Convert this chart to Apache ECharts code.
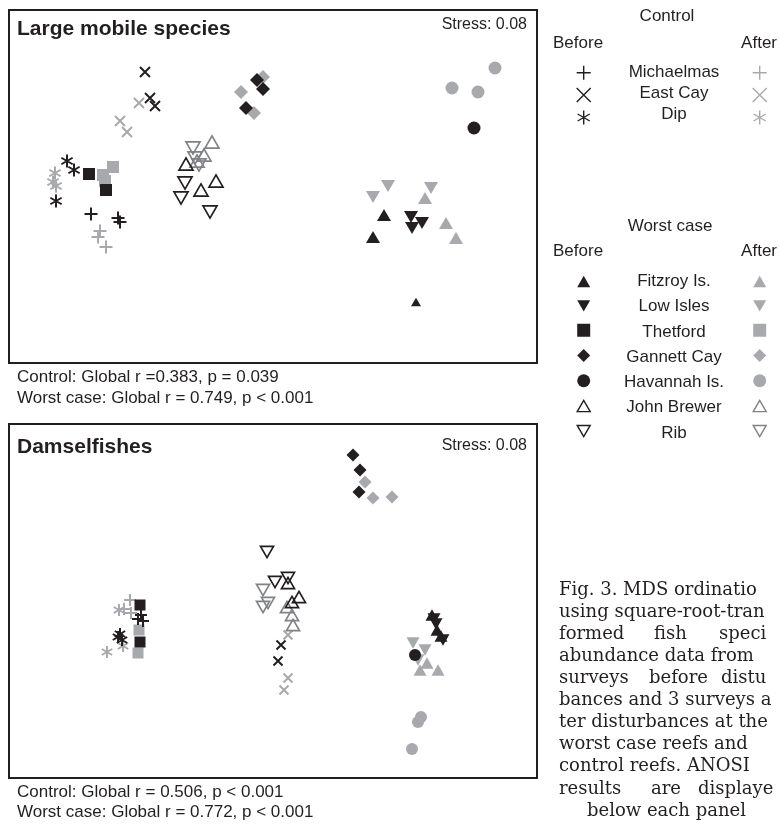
<!DOCTYPE html>
<html><head><meta charset="utf-8">
<script src="https://cdn.jsdelivr.net/npm/echarts@6/dist/echarts.min.js"></script>
<style>html,body{margin:0;padding:0;background:#fff}#c{width:779px;height:828px}</style>
</head><body><div id="c"></div>
<script>
// ---------- Panel A: Large mobile species (MDS coordinates) ----------
const A_michaelmas_before = [[-1.82,-0.275],[-1.55,-0.315],[-1.53,-0.355]];
const A_michaelmas_after  = [[-1.73,-0.445],[-1.75,-0.505],[-1.67,-0.605]];
const A_eastcay_before    = [[-1.28,1.145],[-1.23,0.885],[-1.18,0.805]];
const A_eastcay_after     = [[-1.34,0.835],[-1.53,0.655],[-1.46,0.545]];
const A_dip_before        = [[-2.06,0.255],[-1.99,0.165],[-2.17,-0.145]];
const A_dip_after         = [[-2.18,0.135],[-2.20,0.045],[-2.17,0.005]];
const A_fitzroy_before    = [[1.11,-0.285],[1.00,-0.505]];
const A_fitzroy_before_outlier = [[1.43,-1.155]];
const A_fitzroy_after     = [[1.52,-0.115],[1.73,-0.365],[1.83,-0.515]];
const A_lowisles_before   = [[1.38,-0.305],[1.49,-0.365],[1.39,-0.415]];
const A_lowisles_after    = [[1.15,0.005],[1.00,-0.105],[1.58,-0.015]];
const A_thetford_before   = [[-1.84,0.125],[-1.67,-0.035]];
const A_thetford_after    = [[-1.70,0.115],[-1.60,0.195],[-1.68,0.055]];
const A_gannett_before    = [[-0.16,1.065],[-0.10,0.975],[-0.27,0.785]];
const A_gannett_after     = [[-0.10,1.095],[-0.32,0.945],[-0.19,0.735]];
const A_havannah_before   = [[2.01,0.585]];
const A_havannah_after    = [[2.22,1.185],[1.79,0.985],[2.05,0.945]];
const A_johnbrewer_before = [[-0.87,0.225],[-0.57,0.055],[-0.72,-0.035]];
const A_johnbrewer_after  = [[-0.61,0.445],[-0.69,0.315],[-0.76,0.255]];
const A_rib_before        = [[-0.88,0.035],[-0.92,-0.115],[-0.63,-0.255]];
const A_rib_after         = [[-0.80,0.385],[-0.74,0.215],[-0.78,0.285]];

// ---------- Panel B: Damselfishes ----------
const B_michaelmas_before = [[-1.32,-0.14],[-1.30,-0.20],[-1.35,-0.18]];
const B_michaelmas_after  = [[-1.43,0.01],[-1.49,-0.08],[-1.42,-0.12]];
const B_eastcay_before    = [[0.08,-0.44],[0.05,-0.60]];
const B_eastcay_after     = [[0.15,-0.34],[0.15,-0.77],[0.11,-0.89]];
const B_dip_before        = [[-1.53,-0.33],[-1.51,-0.39],[-1.55,-0.36]];
const B_dip_after         = [[-1.54,-0.09],[-1.50,-0.45],[-1.66,-0.51]];
const B_fitzroy_before    = [[1.59,-0.14],[1.64,-0.29],[1.68,-0.35]];
const B_fitzroy_after     = [[1.47,-0.69],[1.65,-0.69],[1.54,-0.62]];
const B_lowisles_before   = [[1.63,-0.23],[1.70,-0.39],[1.61,-0.18]];
const B_lowisles_after    = [[1.40,-0.42],[1.52,-0.49],[1.45,-0.59]];
const B_thetford_before   = [[-1.33,-0.04],[-1.33,-0.41]];
const B_thetford_after    = [[-1.34,-0.29],[-1.35,-0.52]];
const B_gannett_before    = [[0.80,1.46],[0.87,1.31],[0.86,1.09]];
const B_gannett_after     = [[0.92,1.19],[1.00,1.03],[1.19,1.04]];
const B_havannah_before   = [[1.42,-0.54]];
const B_havannah_after    = [[1.48,-1.16],[1.45,-1.21],[1.39,-1.48]];
const B_johnbrewer_before = [[0.15,0.18],[0.26,0.04],[0.19,-0.01]];
const B_johnbrewer_after  = [[0.14,-0.06],[0.19,-0.14],[0.20,-0.24]];
const B_rib_before        = [[-0.06,0.49],[0.02,0.19],[0.15,0.23]];
const B_rib_after         = [[-0.10,0.11],[-0.05,-0.02],[-0.10,-0.06]];

// ---------- Texts ----------
const controlReefs = ['Michaelmas','East Cay','Dip'];
const worstReefs = ['Fitzroy Is.','Low Isles','Thetford','Gannett Cay','Havannah Is.','John Brewer','Rib'];
const panelTitles = ['Large mobile species','Damselfishes'];
const stressText = 'Stress: 0.08';
const statsA = ['Control: Global r =0.383, p = 0.039','Worst case: Global r = 0.749, p < 0.001'];
const statsB = ['Control: Global r = 0.506, p < 0.001','Worst case: Global r = 0.772, p < 0.001'];
const captionLines = [
  [['Fig. 3. MDS ordinatio',0]],
  [['using square-root-tran',0]],
  [['formed',0],['fish',95],['speci',160]],
  [['abundance data from',0]],
  [['surveys',0],['before',90],['distu',162]],
  [['bances and 3 surveys a',0]],
  [['ter disturbances at the',0]],
  [['worst case reefs and',0]],
  [['control reefs. ANOSI',0]],
  [['results',0],['are',92],['displaye',139]],
  [['below each panel',28]]
];

// ---------- Styling ----------
const BLACK = '#231f20', GRAY = '#a7a9ac', OPEN_GRAY = '#808285';
const SYM = {
  plus: 'path://M5,0L5,10M0,5L10,5',
  cross: 'path://M0,0L10,10M10,0L0,10',
  star: 'path://M5,0L5,10M0.67,2.5L9.33,7.5M0.67,7.5L9.33,2.5',
  up: 'path://M5,0L10,8.66L0,8.66Z',
  down: 'path://M0,0L10,0L5,8.66Z',
  rect: 'rect', diamond: 'diamond', circle: 'circle'
};
const reefs = [
  {name:'Michaelmas', sym:'plus', kind:'line', size:13, A:[A_michaelmas_before, A_michaelmas_after], B:[B_michaelmas_before, B_michaelmas_after]},
  {name:'East Cay', sym:'cross', kind:'line', size:10, A:[A_eastcay_before, A_eastcay_after], B:[B_eastcay_before, B_eastcay_after]},
  {name:'Dip', sym:'star', kind:'line', size:13, A:[A_dip_before, A_dip_after], B:[B_dip_before, B_dip_after]},
  {name:'Fitzroy Is.', sym:'up', kind:'fill', size:14, A:[A_fitzroy_before, A_fitzroy_after], B:[B_fitzroy_before, B_fitzroy_after]},
  {name:'Low Isles', sym:'down', kind:'fill', size:14, A:[A_lowisles_before, A_lowisles_after], B:[B_lowisles_before, B_lowisles_after]},
  {name:'Thetford', sym:'rect', kind:'fill', size:12, A:[A_thetford_before, A_thetford_after], B:[B_thetford_before, B_thetford_after]},
  {name:'Gannett Cay', sym:'diamond', kind:'fill', size:14, A:[A_gannett_before, A_gannett_after], B:[B_gannett_before, B_gannett_after]},
  {name:'Havannah Is.', sym:'circle', kind:'fill', size:13, A:[A_havannah_before, A_havannah_after], B:[B_havannah_before, B_havannah_after]},
  {name:'John Brewer', sym:'up', kind:'open', size:14, A:[A_johnbrewer_before, A_johnbrewer_after], B:[B_johnbrewer_before, B_johnbrewer_after]},
  {name:'Rib', sym:'down', kind:'open', size:14, A:[A_rib_before, A_rib_after], B:[B_rib_before, B_rib_after]}
];

function styleFor(kind, period) {
  const c = period === 0 ? BLACK : (kind === 'open' ? OPEN_GRAY : GRAY);
  if (kind === 'fill') return {color: c, opacity: 1};
  if (kind === 'line') return {color: 'rgba(0,0,0,0)', borderColor: c, borderWidth: 2, opacity: 1};
  return {color: 'rgba(255,255,255,0)', borderColor: c, borderWidth: 1.7, borderJoin: 'miter', opacity: 1};
}
const series = [];
const periods = ['before','after'];
['A','B'].forEach((panel, gi) => {
  const scale = gi === 0 ? 1 : 0.92;
  reefs.forEach(r => {
    [0,1].forEach(p => {
      series.push({
        type:'scatter', name: r.name + ' (' + periods[p] + ')',
        xAxisIndex: gi, yAxisIndex: gi,
        data: r[panel][p], symbol: SYM[r.sym], symbolKeepAspect: true,
        symbolSize: Math.round(r.size*scale), itemStyle: styleFor(r.kind, p),
        emphasis:{disabled:true}, z: p === 0 ? 3 : 2
      });
    });
  });
});
series.push({type:'scatter', name:'Fitzroy Is. (before)', xAxisIndex:0, yAxisIndex:0,
  data: A_fitzroy_before_outlier, symbol: SYM.up, symbolKeepAspect:true, symbolSize: 10,
  itemStyle: styleFor('fill',0), emphasis:{disabled:true}, z:3});

function legendCol(names, period, cx, top, pitch, size) {
  return {orient:'vertical', left: cx - size/2, top: top - size/2, padding:0,
    itemWidth:size, itemHeight:size, itemGap:pitch - size,
    selectedMode:false, formatter: () => '', itemStyle:{opacity:1, borderWidth:1.4},
    data: names.map(n => n + ' (' + period + ')')};
}

const FONT = '"Liberation Sans", Arial, sans-serif';
const graphic = [];
function txt(x, y, text, size, opts) {
  graphic.push({type:'text', x, y, silent:true, style:Object.assign({text, fill:BLACK,
    font: size + 'px ' + FONT, align:'left', verticalAlign:'middle'}, opts||{})});
}
// panel titles, stress
txt(17, 29, panelTitles[0], 21, {font:'bold 21px ' + FONT});
txt(17, 447, panelTitles[1], 21, {font:'bold 21px ' + FONT});
txt(527, 25, stressText, 16, {align:'right'});
txt(527, 446, stressText, 16, {align:'right'});
// stats
txt(17, 377, statsA[0], 17); txt(17, 398, statsA[1], 17);
txt(17, 792, statsB[0], 17); txt(17, 812, statsB[1], 17);
// legend headers
const LF = 17;
txt(667, 16, 'Control', LF, {align:'center'});
txt(553, 43, 'Before', LF); txt(777, 43, 'After', LF, {align:'right'});
controlReefs.forEach((n,i) => txt(674, 72 + i*21, n, LF, {align:'center'}));
txt(670, 226, 'Worst case', LF, {align:'center'});
txt(553, 251, 'Before', LF); txt(777, 251, 'After', LF, {align:'right'});
worstReefs.forEach((n,i) => txt(674, 281.5 + i*25.25, n, LF, {align:'center'}));
// caption
captionLines.forEach((line, i) => line.forEach(([w, dx]) =>
  txt(559 + dx, 590 + i*22.1, w, 18, {font:'18px "DejaVu Serif", serif'})));

const chart = echarts.init(document.getElementById('c'), null, {renderer:'canvas'});
chart.setOption({
  animation:false, backgroundColor:'#fff',
  grid:[
    {left:9, top:10, width:528, height:353, show:true, borderColor:BLACK, borderWidth:2, backgroundColor:'#fff'},
    {left:9, top:424, width:528, height:354, show:true, borderColor:BLACK, borderWidth:2, backgroundColor:'#fff'}
  ],
  xAxis:[
    {type:'value', gridIndex:0, min:-2.64, max:2.64, show:false},
    {type:'value', gridIndex:1, min:-2.64, max:2.64, show:false}
  ],
  yAxis:[
    {type:'value', gridIndex:0, min:-1.765, max:1.765, show:false},
    {type:'value', gridIndex:1, min:-1.77, max:1.77, show:false}
  ],
  legend:[
    legendCol(controlReefs,'before',583,72,21,14),
    legendCol(controlReefs,'after',759,72,21,14),
    legendCol(worstReefs,'before',583,281.5,25.25,13),
    legendCol(worstReefs,'after',759,281.5,25.25,13)
  ],
  series, graphic
});
</script></body></html>
